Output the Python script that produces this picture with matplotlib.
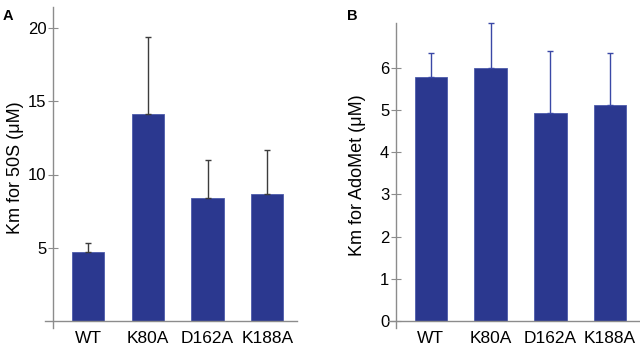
import matplotlib.pyplot as plt
import numpy as np

plt.rcParams['font.family'] = ['Liberation Sans', 'DejaVu Sans']

# data
mutants = ['WT', 'K80A', 'D162A', 'K188A']
km_50s = [4.7, 14.1, 8.4, 8.7]
km_50s_err = [0.65, 5.25, 2.6, 3.0]
km_adomet = [5.78, 6.0, 4.93, 5.12]
km_adomet_err = [0.56, 1.07, 1.47, 1.24]

bar_col = '#2b388f'
axis_col = '#8c8c8c'

fig = plt.figure(figsize=(6.4, 3.49), dpi=100)
axA = fig.add_axes([0.0703, 0.060, 0.394, 0.920])
axB = fig.add_axes([0.606, 0.060, 0.394, 0.875])

x = np.arange(len(mutants))


def style(ax, ymin, ymax, yticks):
    ax.set_xlim(-0.72, 3.5)
    ax.set_ylim(ymin, ymax)
    for s in ['top', 'right']:
        ax.spines[s].set_visible(False)
    ax.spines['left'].set_position(('data', -0.58))
    ax.spines['bottom'].set_position(('data', 0))
    for s in ['left', 'bottom']:
        ax.spines[s].set_color(axis_col)
        ax.spines[s].set_linewidth(1.0)
    ax.set_yticks(yticks)
    ax.set_xticks(x)
    ax.set_xticklabels(mutants)
    ax.tick_params(axis='y', direction='inout', length=7, width=0.8, color=axis_col,
                   labelsize=12, pad=1.5)
    ax.tick_params(axis='x', length=0, labelsize=12.5, pad=7)


# panel A
axA.bar(x, km_50s, width=0.54, color=bar_col, edgecolor='#4d5bab', linewidth=0.6, zorder=2)
axA.errorbar(x, km_50s, yerr=[np.zeros(4), km_50s_err], fmt='none', ecolor='#3c3c3c',
             elinewidth=1, capsize=2, capthick=1, zorder=3)
style(axA, -0.45, 21.4, [5, 10, 15, 20])
axA.set_ylabel('Km for 50S (μM)', fontsize=13, labelpad=3)
fig.text(0.004, 0.975, 'A', fontsize=10.5, fontweight='bold', va='top')

# panel B
axB.bar(x, km_adomet, width=0.54, color=bar_col, edgecolor='#4d5bab', linewidth=0.6, zorder=2)
axB.errorbar(x, km_adomet, yerr=[np.zeros(4), km_adomet_err], fmt='none', ecolor='#3a48a6',
             elinewidth=1, capsize=2, capthick=1, zorder=3, clip_on=False)
style(axB, -0.17, 7.07, [0, 1, 2, 3, 4, 5, 6])
axB.set_ylabel('Km for AdoMet (μM)', fontsize=13, labelpad=10)
fig.text(0.542, 0.975, 'B', fontsize=10.5, fontweight='bold', va='top')

plt.savefig('out.png', dpi=100)
